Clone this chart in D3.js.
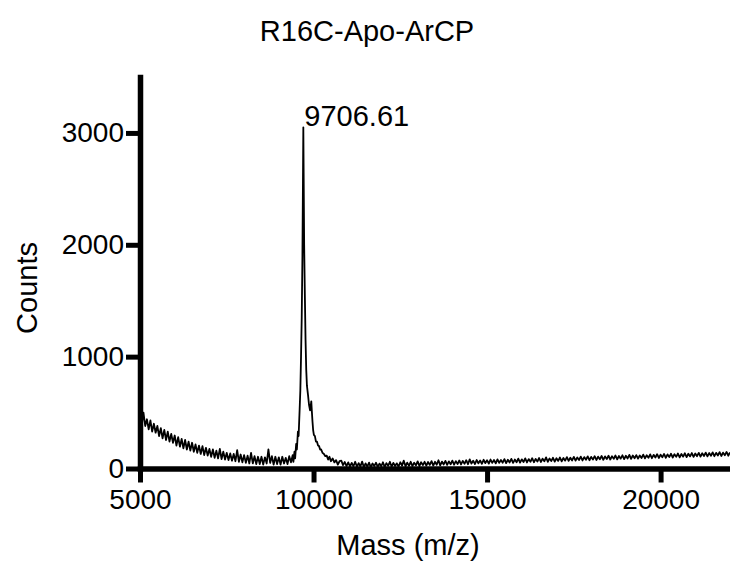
<!DOCTYPE html>
<html>
<head>
<meta charset="utf-8">
<title>R16C-Apo-ArCP</title>
<script src="https://cdn.jsdelivr.net/npm/d3@7"></script>
<style>
    body { margin: 0; background: white; }
    text { font-family: "Liberation Sans", Arial, Helvetica, sans-serif; fill: black; }
</style>
</head>
<body>
<div id="chart-area"></div>
<script>

// spectrum data

const chartTitle = "R16C-Apo-ArCP";
const peakLabel = "9706.61";
const peakMass = 9706;

const xTicks = [5000, 10000, 15000, 20000];
const yTicks = [0, 1000, 2000, 3000];

// baseline before the peak, 50 Da steps starting at 5000
const lowStart = 5000;
const lowStep = 50;
const lowCounts = [
    470, 390, 500, 380, 440, 350, 430, 330, 400, 320,
    380, 290, 360, 270, 345, 255, 330, 240, 310, 230,
    295, 205, 280, 195, 265, 180, 255, 170, 240, 160,
    230, 150, 215, 140, 205, 130, 200, 120, 185, 115,
    175, 105, 170, 95, 160, 90, 175, 85, 150, 80,
    140, 75, 135, 70, 130, 65, 165, 60, 125, 55,
    120, 50, 115, 45, 140, 45, 110, 40, 105, 40,
    105, 35, 100, 45, 170, 50, 110, 35, 105, 40,
    100, 35, 105, 45, 95, 40, 110, 55
];

// the main peak, explicit mass / counts pairs
const peakMasses = [
    9400, 9420, 9450, 9470, 9500, 9520, 9550, 9570, 9600, 9620,
    9640, 9660, 9680, 9695, 9706, 9715, 9730, 9750, 9770, 9790,
    9810, 9840, 9870, 9900, 9920, 9935, 9950, 9970, 9990, 10010,
    10040, 10070, 10100, 10130, 10160, 10190, 10220, 10260, 10300, 10340,
    10380, 10420, 10460, 10500, 10550, 10600, 10650, 10700, 10750
];
const peakCounts = [
    120, 60, 150, 90, 220, 170, 330, 290, 530, 700,
    1000, 1350, 1900, 2550, 3050, 2650, 2000, 1550, 1150, 880,
    740, 660, 570, 520, 560, 600, 520, 420, 340, 300,
    290, 240, 240, 205, 200, 170, 170, 140, 130, 110,
    115, 80, 105, 65, 90, 55, 75, 35, 65
];

// baseline after the peak, 50 Da steps starting at 10800
const highStart = 10800;
const highStep = 50;
const highCounts = [
    70, 30, 58, 22, 55, 18, 50, 20, 60, 15,
    48, 18, 62, 12, 46, 16, 52, 10, 45, 22,
    52, 14, 44, 20, 56, 12, 48, 24, 60, 16,
    50, 22, 46, 18, 56, 26, 70, 20, 52, 24,
    60, 22, 52, 28, 64, 22, 56, 30, 60, 26,
    58, 32, 66, 26, 60, 34, 74, 28, 62, 36,
    68, 32, 64, 38, 70, 34, 66, 40, 72, 36,
    68, 42, 74, 38, 82, 44, 70, 40, 76, 46,
    72, 42, 78, 48, 74, 44, 80, 50, 76, 46,
    82, 50, 76, 52, 84, 48, 78, 54, 86, 50,
    80, 56, 88, 52, 82, 58, 90, 54, 84, 60,
    92, 56, 86, 62, 94, 58, 88, 64, 100, 60,
    90, 66, 96, 62, 92, 68, 98, 64, 94, 70,
    102, 68, 96, 72, 104, 70, 98, 76, 106, 72,
    102, 78, 108, 74, 104, 80, 110, 76, 106, 82,
    112, 78, 108, 84, 114, 80, 110, 86, 116, 82,
    112, 88, 118, 84, 114, 90, 122, 86, 116, 92,
    120, 88, 116, 94, 124, 90, 118, 96, 126, 92,
    122, 98, 128, 94, 124, 100, 130, 96, 126, 102,
    132, 98, 128, 104, 134, 100, 130, 106, 136, 102,
    132, 108, 138, 104, 134, 110, 140, 106, 136, 112,
    142, 108, 138, 114, 144, 110, 140, 116, 146, 112,
    142, 118, 148, 114, 144
];


class Spectrum {

    constructor(parentElement){
        this.parentElement = parentElement;
        this.initVis();
    }

    initVis(){
        let vis = this;

        vis.width = 730;
        vis.height = 565;

        vis.svg = d3.select("#" + vis.parentElement).append("svg")
            .attr("width", vis.width)
            .attr("height", vis.height);

        // scales
        vis.x = d3.scaleLinear().domain([5000, 22000]).range([140, 730]);
        vis.y = d3.scaleLinear().domain([0, 3500]).range([468.5, 77]);

        vis.wrangleData();
    }

    wrangleData(){
        let vis = this;
        vis.displayData = [];

        lowCounts.forEach(function(c, i){
            vis.displayData.push({mass: lowStart + i * lowStep, counts: c});
        });
        peakMasses.forEach(function(m, i){
            vis.displayData.push({mass: m, counts: peakCounts[i]});
        });
        highCounts.forEach(function(c, i){
            vis.displayData.push({mass: highStart + i * highStep, counts: c});
        });

        vis.displayData.sort((a, b) => a.mass - b.mass);

        vis.updateVis();
    }

    updateVis(){
        let vis = this;

        // spectrum trace
        vis.line = d3.line()
            .x(d => vis.x(d.mass))
            .y(d => vis.y(d.counts));

        vis.svg.append("path")
            .datum(vis.displayData)
            .attr("d", vis.line)
            .attr("fill", "none")
            .attr("stroke", "black")
            .attr("stroke-width", 1.8)
            .attr("stroke-linejoin", "round");

        // axes
        let xAxis = d3.axisBottom(vis.x)
            .tickValues(xTicks)
            .tickFormat(d3.format("d"))
            .tickSize(14)
            .tickSizeOuter(0)
            .tickPadding(7);

        let yAxis = d3.axisLeft(vis.y)
            .tickValues(yTicks)
            .tickFormat(d3.format("d"))
            .tickSize(14)
            .tickSizeOuter(0)
            .tickPadding(2);

        let gx = vis.svg.append("g")
            .attr("transform", "translate(0," + vis.y(0) + ")")
            .call(xAxis);

        let gy = vis.svg.append("g")
            .attr("transform", "translate(" + vis.x(5000) + ",0)")
            .call(yAxis);

        [gx, gy].forEach(function(g){
            g.select(".domain")
                .attr("stroke", "black")
                .attr("stroke-width", 5.5)
                .attr("stroke-linecap", "square");
            g.selectAll(".tick line")
                .attr("stroke", "black")
                .attr("stroke-width", 5);
            g.selectAll(".tick text")
                .attr("fill", "black")
                .style("font-size", "28px")
                .style("font-family", "'Liberation Sans', Arial, sans-serif");
        });

        // title
        vis.svg.append("text")
            .text(chartTitle)
            .attr("x", 367)
            .attr("y", 41)
            .attr("text-anchor", "middle")
            .style("font-size", "29px");

        // axis titles
        vis.svg.append("text")
            .text("Mass (m/z)")
            .attr("x", 408)
            .attr("y", 555)
            .attr("text-anchor", "middle")
            .style("font-size", "29px");

        vis.svg.append("text")
            .text("Counts")
            .attr("transform", "translate(37,288) rotate(-90)")
            .attr("text-anchor", "middle")
            .style("font-size", "29px");

        // peak annotation
        vis.svg.append("text")
            .text(peakLabel)
            .attr("x", vis.x(peakMass) + 1)
            .attr("y", 126)
            .style("font-size", "29px");
    }
}

new Spectrum("chart-area");

</script>
</body>
</html>
